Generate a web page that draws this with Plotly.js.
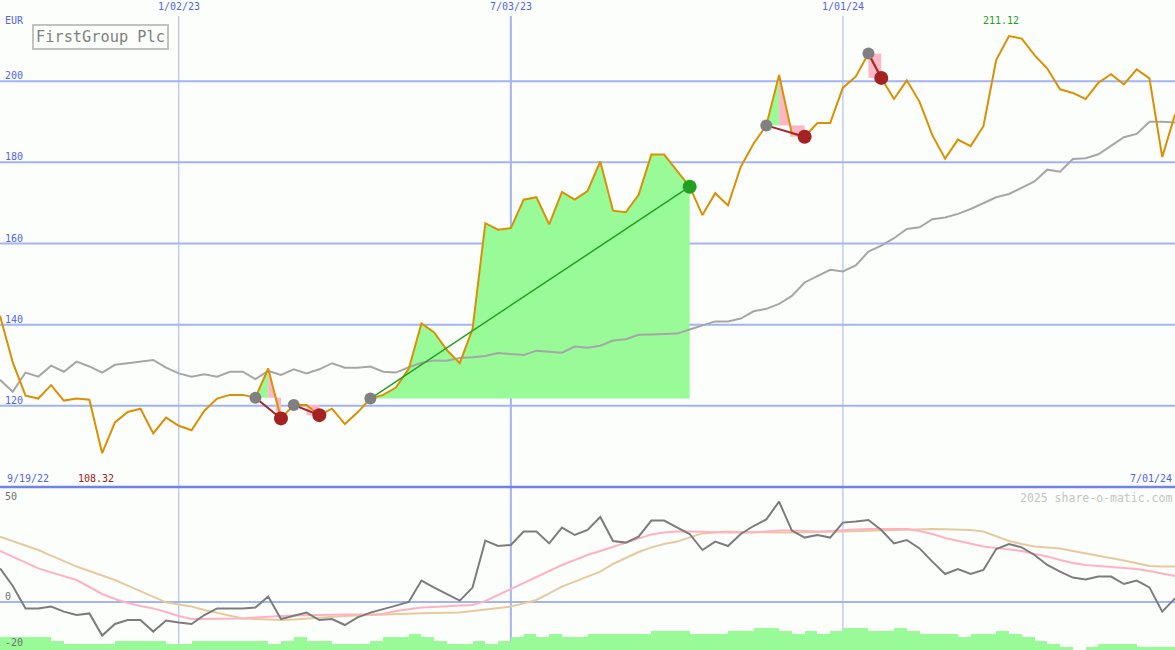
<!DOCTYPE html>
<html><head><meta charset="utf-8">
<script src="https://cdn.plot.ly/plotly-3.0.1.min.js"></script>
<style>html,body{margin:0;padding:0;background:#FCFEFC}#chart{width:1175px;height:650px}</style>
</head><body><div id="chart"></div>
<script>
// ---------- data (weekly, first week 2022-09-26) ----------
const startDate = '2022-09-26';
const price = [142.2,130.7,122.5,121.8,125.1,121.3,121.8,121.5,108.32,115.9,
118.5,119.3,113.2,117.1,115.1,114.0,118.8,121.8,122.7,122.7,
122.0,129.2,116.9,120.2,120.2,117.7,119.3,115.5,118.4,121.8,
122.7,124.5,129.1,140.3,138.1,133.7,130.5,138.9,165.0,163.4,
163.8,170.8,171.4,164.7,172.7,170.8,172.9,180.2,168.1,167.7,
172.0,181.9,181.9,177.8,174.0,167.0,172.4,169.4,178.9,184.6,
189.1,201.5,187.1,186.3,189.7,189.7,198.4,201.1,206.8,200.8,
195.6,200.2,194.9,186.7,180.9,185.6,184.0,188.9,205.2,211.12,
210.5,206.4,203.1,198.0,197.1,195.6,199.6,201.7,199.2,202.9,
200.7,181.3,191.8];
const avgLine = [126.4,123.5,128.2,127.2,129.9,128.4,130.9,129.7,128.2,130.1,
130.5,130.9,131.3,129.4,128.0,127.2,127.8,127.2,128.4,128.4,
126.6,128.6,127.6,129.0,128.0,129.0,130.5,129.4,129.4,129.7,
128.4,128.2,129.5,130.6,131.2,131.1,131.8,132.0,132.3,133.0,
132.7,132.5,133.6,133.4,133.1,134.6,134.3,134.8,136.1,136.4,
137.5,137.6,137.7,137.8,138.8,139.8,140.8,140.8,141.5,143.3,
143.9,145.1,147.1,150.4,151.9,153.5,153.1,154.6,158.0,159.5,
161.3,163.6,164.0,166.0,166.4,167.3,168.5,170.0,171.4,172.2,
173.8,175.3,178.2,177.7,180.8,181.0,182.0,184.1,186.2,187.0,
190.0,190.0,189.8];
const momentum = [16.8,8.0,-3.2,-3.2,-2.3,-4.8,-6.5,-5.7,-16.8,-11,
-9,-9,-14.8,-9.3,-10.3,-11,-6.5,-3.2,-3.2,-3.2,
-2.8,2.7,-8.5,-6.8,-5.3,-9,-8.5,-11.5,-7.7,-5.3,
-3.7,-1.8,0,10.7,7.2,4,0.7,7.2,30.7,28,
28.5,35.2,35.2,29.3,37.2,33.5,36,42.5,30.5,29.7,
32.7,40.7,40.7,37.3,34,26,30.2,28,34,38,
41.3,50.2,35.7,32.2,33.5,32.2,39.7,40.2,41,36,
29.3,31,26.8,20.2,14,16.5,14,16,26.5,29,
27.3,23.5,18.5,15.2,12.2,11.3,12.7,12.7,9,10.7,
7.3,-4.8,1.8];
const pinkAvg = [25.5,22.5,19.5,16.8,14.8,12.8,11.0,7.5,4.0,1.5,
-0.5,-2.0,-3.2,-5.0,-7.0,-8.5,-8.5,-8.5,-8.5,-8.2,
-7.8,-7.3,-7.0,-6.8,-6.6,-6.5,-6.5,-6.3,-6.2,-6.1,
-6.0,-4.5,-3.5,-2.8,-2.5,-2.0,-1.8,-1.5,0.5,3.5,
6.5,9.5,12.7,15.5,18.5,21.0,23.5,25.5,27.5,29.5,
31.5,33.8,34.8,35.2,35.2,35.0,34.7,34.7,34.8,34.8,
35.2,35.7,35.7,35.5,35.2,35.5,36.0,36.3,36.5,36.5,
36.5,36.5,35.5,34.0,32.0,30.5,29.0,27.7,27.0,26.3,
25.5,24.0,22.8,21.0,19.5,18.5,18.0,17.7,17.3,16.5,
15.5,14.3,13.0];
const tanAvg = [32.7,30.5,28.3,26.0,23.2,20.5,17.7,15.5,13.2,11.0,
8.2,5.3,2.5,-0.2,-1.3,-2.3,-4.0,-5.5,-7.0,-8.2,
-8.5,-8.8,-9.0,-8.8,-8.3,-7.8,-7.3,-7.0,-6.8,-6.5,
-6.3,-6.0,-5.8,-5.6,-5.5,-5.4,-5.3,-4.5,-3.8,-3.0,
-2.3,-0.7,1.0,4.3,7.7,10.2,12.7,15.2,19.0,22.0,
25.0,27.3,29.0,30.2,32.3,34.3,34.8,35.2,35.0,34.8,
34.7,34.7,34.8,34.8,35.0,35.1,35.2,35.4,35.6,35.7,
36.0,36.3,36.5,36.5,36.4,36.3,36.0,35.2,33.0,30.5,
29.0,27.7,27.2,26.7,25.5,24.3,23.2,22.2,20.8,19.4,
18.0,17.8,17.7];
const volume = [4,4,4,4,3,2,2,2,2,3,
3,3,3,2,2,3,3,3,3,3,
3,2,3,4,3,3,2,2,2,3,
4,4,5,4,3,2,2,3,2,3,
4,5,4,5,4,4,5,5,5,5,
5,6,6,6,5,5,5,6,6,7,
7,6,5,6,5,6,7,7,6,6,
7,6,5,5,5,4,5,5,6,5,
4,3,2,1,0,1,2,2,2,1,
1,1];
const upperTicks = [120,140,160,180,200];
const lowerTicks = [50,0,-20];
const dateTicks = ['2023-01-02','2023-07-03','2024-01-01'];
const dateTickText = ['1/02/23','7/03/23','1/01/24'];
const dateTickWidth = [1,2,1];
const tradeEntry = [20,23,29,60,68];
const tradeExit = [22,25,54,63,69];
const chartTitle = 'FirstGroup Plc';
const currency = 'EUR';
const firstLabel = '9/19/22', lastLabel = '7/01/24';
const minLabel = '108.32', maxLabel = '211.12';
const credit = '2025 share-o-matic.com';

// ---------- helpers ----------
const WEEK = 7*864e5;
const t0 = Date.parse(startDate + 'T00:00:00Z');
const xAt = f => new Date(t0 + f*WEEK).toISOString().replace('T',' ').slice(0,19);
const idx = price.map((_, i) => i);
const dates = idx.map(i => xAt(i));
const MONO = 'DejaVu Sans Mono';
const BLUE = '#5264EC';
const GRID = '#A3B3F3';
const splitFrac = 163/650;

const traces = [];
const trades = tradeEntry.map((e, k) => ({e, x: tradeExit[k]}));

// fills
trades.forEach(t => {
  const ev = price[t.e], xv = price[t.x];
  let p = t.e;
  for (let j = t.e; j <= t.x; j++) if (price[j] > price[p]) p = j;
  const win = xv >= ev;
  const gEnd = win ? t.x : p;
  if (gEnd > t.e) {
    const gx = [xAt(t.e)], gy = [ev];
    for (let j = t.e+1; j <= gEnd; j++) { gx.push(xAt(j)); gy.push(Math.max(price[j], ev)); }
    gx.push(xAt(gEnd)); gy.push(ev); gx.push(xAt(t.e)); gy.push(ev);
    traces.push({x: gx, y: gy, mode: 'lines', fill: 'toself', fillcolor: '#98FB98',
      line: {width: 0, color: 'rgba(0,0,0,0)'}, hoverinfo: 'skip', xaxis: 'x', yaxis: 'y'});
  }
  if (!win) {
    let xc = p, jc = p;
    for (let j = p; j < t.x; j++) {
      if (price[j+1] < ev) { xc = j + (price[j]-ev)/(price[j]-price[j+1]); jc = j; break; }
    }
    const px = [], py = [];
    for (let j = p; j <= jc; j++) { px.push(xAt(j)); py.push(price[j]); }
    px.push(xAt(xc)); py.push(ev); px.push(xAt(p)); py.push(ev);
    traces.push({x: px, y: py, mode: 'lines', fill: 'toself', fillcolor: '#FFB6C6',
      line: {width: 0, color: 'rgba(0,0,0,0)'}, hoverinfo: 'skip', xaxis: 'x', yaxis: 'y'});
    traces.push({x: [xAt(xc), xAt(t.x), xAt(t.x), xAt(xc), xAt(xc)], y: [ev, ev, xv, xv, ev],
      mode: 'lines', fill: 'toself', fillcolor: '#FFB6C6',
      line: {width: 0, color: 'rgba(0,0,0,0)'}, hoverinfo: 'skip', xaxis: 'x', yaxis: 'y'});
  }
});

traces.push({x: dates, y: avgLine, mode: 'lines', line: {color: '#A6A6A6', width: 2}, xaxis: 'x', yaxis: 'y'});
traces.push({x: dates, y: price, mode: 'lines', line: {color: '#DA9000', width: 2}, xaxis: 'x', yaxis: 'y'});

trades.forEach(t => {
  const win = price[t.x] >= price[t.e];
  traces.push({x: [dates[t.e], dates[t.x]], y: [price[t.e], price[t.x]], mode: 'lines',
    line: {color: win ? '#22A022' : '#A02828', width: win ? 1.5 : 2}, xaxis: 'x', yaxis: 'y'});
});
traces.push({x: tradeEntry.map(i => dates[i]), y: tradeEntry.map(i => price[i]), mode: 'markers',
  marker: {size: 12, color: '#808080'}, xaxis: 'x', yaxis: 'y'});
traces.push({x: trades.map(t => dates[t.x]), y: trades.map(t => price[t.x]), mode: 'markers',
  marker: {size: 14, color: trades.map(t => price[t.x] >= price[t.e] ? '#22A022' : '#A52222')},
  xaxis: 'x', yaxis: 'y'});

// lower panel
traces.push({type: 'bar', x: volume.map((_, k) => xAt(k+0.5)), y: volume, width: WEEK,
  marker: {color: '#98FB98', line: {width: 0}}, xaxis: 'x', yaxis: 'y3'});
traces.push({x: dates, y: tanAvg, mode: 'lines', line: {color: '#E6CA9E', width: 2}, xaxis: 'x', yaxis: 'y2'});
traces.push({x: dates, y: pinkAvg, mode: 'lines', line: {color: '#FFB2C2', width: 2}, xaxis: 'x', yaxis: 'y2'});
traces.push({x: dates, y: momentum, mode: 'lines', line: {color: '#7C7C7C', width: 2}, xaxis: 'x', yaxis: 'y2'});

// shapes
const shapes = [];
upperTicks.forEach(v => shapes.push({type: 'line', xref: 'paper', x0: 0, x1: 1, yref: 'y', y0: v, y1: v,
  line: {color: GRID, width: 2}, layer: 'below'}));
shapes.push({type: 'line', xref: 'paper', x0: 0, x1: 1, yref: 'y2', y0: 0, y1: 0,
  line: {color: GRID, width: 2}, layer: 'below'});
dateTicks.forEach((d, k) => shapes.push({type: 'line', xref: 'x', x0: d, x1: d, yref: 'paper', y0: 0, y1: 1 - 16/650,
  line: {color: GRID, width: dateTickWidth[k]}, layer: 'below'}));
shapes.push({type: 'line', xref: 'paper', x0: 0, x1: 1, yref: 'paper', y0: splitFrac, y1: splitFrac,
  line: {color: '#7282EA', width: 2.5}});

// annotations
const ann = [];
const A = o => ann.push(Object.assign({showarrow: false, font: {family: MONO, size: 10, color: BLUE}}, o));
upperTicks.forEach(v => A({text: String(v), xref: 'paper', x: 0, xanchor: 'left', xshift: 3,
  yref: 'y', y: v, yanchor: 'bottom', yshift: -2}));
lowerTicks.forEach((v, k) => A({text: String(v), xref: 'paper', x: 0, xanchor: 'left', xshift: 3,
  yref: 'y2', y: v, yanchor: k === lowerTicks.length-1 ? 'middle' : 'bottom', yshift: k === lowerTicks.length-1 ? 0 : -2,
  font: {family: MONO, size: 10, color: '#707070'}}));
dateTicks.forEach((d, k) => A({text: dateTickText[k], xref: 'x', x: d, xanchor: 'center',
  yref: 'paper', y: 1, yanchor: 'top', yshift: 1}));
A({text: currency, xref: 'paper', x: 0, xanchor: 'left', xshift: 3, yref: 'paper', y: 1, yanchor: 'top', yshift: -13});
A({text: firstLabel, xref: 'paper', x: 0, xanchor: 'left', xshift: 5, yref: 'paper', y: splitFrac, yanchor: 'bottom', yshift: 1});
A({text: lastLabel, xref: 'paper', x: 1, xanchor: 'right', xshift: -1, yref: 'paper', y: splitFrac, yanchor: 'bottom', yshift: 1});
const iMin = price.indexOf(Math.min(...price)), iMax = price.indexOf(Math.max(...price));
A({text: minLabel, xref: 'x', x: dates[iMin], xanchor: 'center', xshift: -6, yref: 'paper', y: splitFrac, yanchor: 'bottom', yshift: 1,
  font: {family: MONO, size: 10, color: '#A02020'}});
A({text: maxLabel, xref: 'x', x: dates[iMax], xanchor: 'center', xshift: -8, yref: 'paper', y: 1, yanchor: 'top', yshift: -13,
  font: {family: MONO, size: 10, color: '#20A020'}});
A({text: credit, xref: 'paper', x: 1, xanchor: 'right', xshift: -1, yref: 'paper', y: splitFrac, yanchor: 'top', yshift: -2,
  font: {family: MONO, size: 11.5, color: '#C4C4C4'}});
A({text: chartTitle, xref: 'paper', x: 32/1175, xanchor: 'left', yref: 'paper', y: 1 - 24/650, yanchor: 'top',
  bordercolor: '#C2C2C2', borderwidth: 2, borderpad: 2, bgcolor: '#FCFEFC',
  font: {family: MONO, size: 15.3, color: '#808080'}});

const layout = {
  width: 1175, height: 650,
  margin: {l: 0, r: 0, t: 0, b: 0, pad: 0},
  paper_bgcolor: '#FCFEFC', plot_bgcolor: '#FCFEFC',
  showlegend: false, bargap: 0,
  xaxis: {type: 'date', range: [dates[0], dates[dates.length-1]], showgrid: false, zeroline: false,
    showticklabels: false, ticks: '', showline: false, fixedrange: true},
  yaxis: {domain: [splitFrac, 1], range: [100, 220], showgrid: false, zeroline: false,
    showticklabels: false, ticks: '', showline: false},
  yaxis2: {domain: [0, splitFrac], range: [-24, 57.5], showgrid: false, zeroline: false,
    showticklabels: false, ticks: '', showline: false},
  yaxis3: {overlaying: 'y2', anchor: 'x', range: [0, 51.75], showgrid: false, zeroline: false,
    showticklabels: false, ticks: '', showline: false},
  shapes: shapes, annotations: ann
};
Plotly.newPlot('chart', traces, layout, {staticPlot: true, displayModeBar: false});
</script></body></html>
